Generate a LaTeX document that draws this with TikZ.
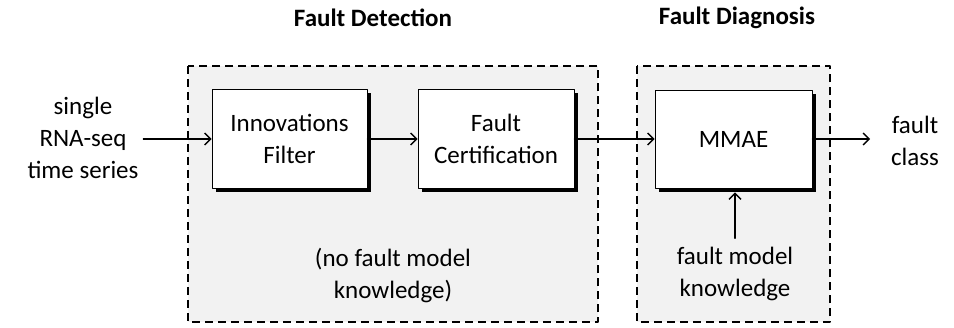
\documentclass[tikz,border=0pt]{standalone}
\usepackage{fontspec}
\setmainfont{Carlito}
\usepackage{tikz}
\usetikzlibrary{arrows.meta,shadows}

\begin{document}
\begin{tikzpicture}[x=1pt,y=-1pt,line width=1.2pt,line cap=round,line join=round,
    block/.style={draw,fill=white,line width=0.9pt,align=center,minimum width=155pt,minimum height=99pt,
        drop shadow={shadow xshift=3.5pt,shadow yshift=-3.5pt,fill=black,opacity=1}},
    group/.style={draw,dash pattern=on 8pt off 5pt,line width=1.8pt,line cap=butt,fill=black!5},
    label/.style={align=center},
    arr/.style={-{Straight Barb[length=6pt,width=12pt]},line width=1.4pt}]
\fontsize{25}{32}\selectfont
\useasboundingbox (0,0) rectangle (954,327);

%%%%%%%%%%%%%%%% GROUPS %%%%%%%%%%%%%%%%%%%
\draw[group] (188,66) rectangle (598,322);
\draw[group] (637,66) rectangle (830,322);
\node[font=\bfseries] (tdet) at (373,18) {Fault Detection};
\node[font=\bfseries] (tdiag) at (737,18) {Fault Diagnosis};

%%%%%%%%%%%%%%%% BLOCKS %%%%%%%%%%%%%%%%%%%
\node[block] (filter) at (289.5,139) {Innovations\\Filter};
\node[block,minimum width=156pt] (cert) at (496,139) {Fault\\Certification};
\node[block,minimum width=157pt,minimum height=98pt] (mmae) at (733.5,139) {MMAE};

\node[label] (input) at (83,138) {single\\RNA-seq\\time series};
\node[label] (output) at (915,141) {fault\\class};
\node[label] (know) at (735,274) {fault model\\knowledge};
\node[label] (nofault) at (393,276) {(no fault model\\knowledge)};

%%%%%%%%%%%%%%%% ARROWS %%%%%%%%%%%%%%%%%%%
\draw[arr] ([xshift=-4pt]input.east |- filter.west) -- (filter.west);
\draw[arr] (filter.east) -- (cert.west);
\draw[arr] (cert.east) -- (cert.east -| mmae.west);
\draw[arr] (mmae.east) -- ([xshift=-12pt]output.west |- mmae.east);
\draw[arr] (know.north) -- ([yshift=-4pt]know.north |- mmae.south);

\end{tikzpicture}
\end{document}
